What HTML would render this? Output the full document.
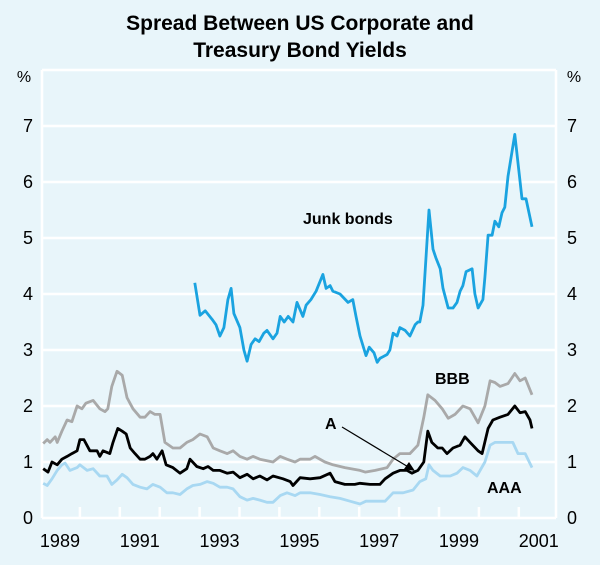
<!DOCTYPE html>
<html><head><meta charset="utf-8"><style>
body{margin:0;background:#e8f5fa;}
svg{display:block;font-family:"Liberation Sans",Arial,sans-serif;}
</style></head><body>
<svg id="chart" width="600" height="565" viewBox="0 0 600 565">
<rect x="0" y="0" width="600" height="565" fill="#e8f5fa"/>
<text x="300" y="30" text-anchor="middle" font-size="21" font-weight="bold">Spread Between US Corporate and</text>
<text x="300" y="57" text-anchor="middle" font-size="21" font-weight="bold">Treasury Bond Yields</text>
<g id="grid"></g>
<g id="axes"></g>
<g id="series"></g>
<text x="303" y="224" font-size="16" font-weight="bold">Junk bonds</text>
<text x="435" y="384" font-size="16" font-weight="bold">BBB</text>
<text x="325" y="429" font-size="16" font-weight="bold">A</text>
<text x="487" y="493" font-size="16" font-weight="bold">AAA</text>
<line x1="342" y1="427" x2="410" y2="468" stroke="#000" stroke-width="1.2"/>
<polygon points="415,471 404,469 409,462" fill="#000"/>
</svg>
<script>
const yTicks=[0,1,2,3,4,5,6,7];
const yearLabels=["1989","1991","1993","1995","1997","1999","2001"];
const yearLabelStarts=[1989,1991,1993,1995,1997,1999,2001];
const tickYears=[1990,1991,1992,1993,1994,1995,1996,1997,1998,1999,2000,2001];
const junkT=[1992.88,1993.01,1993.14,1993.31,1993.41,1993.51,1993.61,1993.71,1993.79,1993.86,1994.01,1994.11,1994.19,1994.29,1994.39,1994.49,1994.61,1994.69,1994.84,1994.94,1995.02,1995.12,1995.22,1995.34,1995.44,1995.59,1995.67,1995.79,1995.92,1996.09,1996.17,1996.27,1996.34,1996.52,1996.72,1996.84,1996.92,1997.02,1997.17,1997.25,1997.37,1997.45,1997.52,1997.7,1997.77,1997.85,1997.95,1998.02,1998.15,1998.27,1998.4,1998.47,1998.52,1998.6,1998.75,1998.85,1998.92,1999.03,1999.1,1999.23,1999.35,1999.45,1999.53,1999.6,1999.68,1999.83,1999.9,1999.98,2000.1,2000.15,2000.23,2000.33,2000.4,2000.5,2000.58,2000.65,2000.73,2000.9,2001.08,2001.18,2001.33];
const junkV=[4.2,3.62,3.7,3.55,3.45,3.25,3.4,3.9,4.1,3.65,3.4,3.0,2.8,3.1,3.2,3.15,3.3,3.35,3.2,3.3,3.6,3.5,3.6,3.5,3.85,3.6,3.8,3.9,4.05,4.35,4.1,4.15,4.05,4.0,3.85,3.9,3.6,3.25,2.9,3.05,2.95,2.78,2.85,2.92,3.0,3.3,3.25,3.4,3.35,3.25,3.45,3.5,3.5,3.8,5.5,4.8,4.65,4.45,4.1,3.75,3.75,3.85,4.05,4.15,4.4,4.45,4.0,3.75,3.9,4.3,5.05,5.05,5.3,5.2,5.45,5.55,6.1,6.85,5.7,5.7,5.2];
const bbbT=[1989.08,1989.18,1989.25,1989.38,1989.43,1989.55,1989.68,1989.8,1989.93,1990.05,1990.15,1990.33,1990.5,1990.63,1990.7,1990.8,1990.93,1991.06,1991.18,1991.33,1991.51,1991.63,1991.76,1991.88,1992.01,1992.13,1992.33,1992.51,1992.68,1992.83,1993.01,1993.19,1993.34,1993.51,1993.69,1993.84,1994.01,1994.19,1994.34,1994.51,1994.84,1995.02,1995.19,1995.39,1995.52,1995.77,1995.89,1996.14,1996.34,1996.64,1997.02,1997.15,1997.4,1997.7,1997.85,1998.02,1998.27,1998.47,1998.62,1998.72,1998.9,1999.08,1999.23,1999.4,1999.6,1999.78,1999.98,2000.15,2000.28,2000.4,2000.53,2000.73,2000.9,2001.03,2001.16,2001.33];
const bbbV=[1.33,1.4,1.35,1.45,1.35,1.55,1.75,1.72,2.0,1.95,2.05,2.1,1.95,1.9,1.95,2.35,2.62,2.55,2.15,1.95,1.8,1.8,1.9,1.85,1.85,1.35,1.25,1.25,1.35,1.4,1.5,1.45,1.25,1.2,1.15,1.2,1.1,1.05,1.1,1.05,1.0,1.1,1.05,1.0,1.05,1.05,1.1,1.0,0.95,0.9,0.85,0.82,0.85,0.9,1.05,1.15,1.15,1.3,1.8,2.2,2.1,1.95,1.78,1.85,2.0,1.95,1.7,2.0,2.45,2.42,2.35,2.4,2.58,2.45,2.5,2.2];
const aT=[1989.08,1989.2,1989.3,1989.43,1989.55,1989.68,1989.8,1989.93,1990.0,1990.1,1990.25,1990.43,1990.5,1990.58,1990.75,1990.83,1990.95,1991.06,1991.16,1991.26,1991.38,1991.51,1991.63,1991.76,1991.83,1991.93,1992.06,1992.16,1992.33,1992.51,1992.68,1992.76,1992.93,1993.09,1993.21,1993.34,1993.51,1993.69,1993.84,1994.01,1994.19,1994.34,1994.51,1994.69,1994.84,1995.09,1995.27,1995.34,1995.52,1995.77,1996.02,1996.27,1996.39,1996.64,1996.89,1997.02,1997.27,1997.52,1997.65,1997.85,1998.02,1998.2,1998.32,1998.47,1998.62,1998.72,1998.82,1998.97,1999.08,1999.2,1999.35,1999.53,1999.65,1999.78,1999.98,2000.08,2000.23,2000.35,2000.53,2000.73,2000.9,2001.03,2001.16,2001.28,2001.33];
const aV=[0.88,0.82,1.0,0.95,1.05,1.1,1.15,1.2,1.4,1.4,1.2,1.2,1.1,1.2,1.15,1.35,1.6,1.55,1.5,1.25,1.15,1.05,1.05,1.1,1.15,1.05,1.2,0.95,0.9,0.8,0.88,1.05,0.92,0.88,0.92,0.85,0.85,0.8,0.82,0.72,0.78,0.7,0.75,0.68,0.75,0.7,0.65,0.58,0.72,0.7,0.72,0.8,0.65,0.6,0.6,0.62,0.6,0.6,0.7,0.8,0.85,0.85,0.8,0.85,1.0,1.55,1.35,1.25,1.25,1.15,1.25,1.3,1.45,1.35,1.2,1.15,1.6,1.75,1.8,1.85,2.0,1.88,1.9,1.75,1.6];
const aaaT=[1989.08,1989.18,1989.3,1989.43,1989.55,1989.63,1989.75,1989.93,1990.0,1990.18,1990.33,1990.5,1990.68,1990.8,1990.93,1991.06,1991.18,1991.33,1991.51,1991.68,1991.83,1992.01,1992.18,1992.33,1992.51,1992.68,1992.83,1993.01,1993.19,1993.34,1993.51,1993.69,1993.84,1994.01,1994.19,1994.34,1994.51,1994.69,1994.84,1995.02,1995.19,1995.39,1995.52,1995.77,1996.02,1996.27,1996.52,1996.77,1997.02,1997.17,1997.4,1997.65,1997.85,1998.1,1998.35,1998.52,1998.67,1998.75,1998.85,1999.03,1999.28,1999.45,1999.6,1999.78,1999.95,2000.15,2000.28,2000.4,2000.65,2000.85,2000.98,2001.16,2001.33];
const aaaV=[0.62,0.58,0.7,0.85,0.95,0.98,0.85,0.9,0.95,0.85,0.88,0.75,0.75,0.6,0.68,0.78,0.72,0.6,0.55,0.52,0.6,0.55,0.45,0.45,0.42,0.52,0.58,0.6,0.65,0.62,0.55,0.55,0.52,0.38,0.32,0.35,0.32,0.28,0.28,0.4,0.45,0.4,0.45,0.45,0.42,0.38,0.35,0.3,0.25,0.3,0.3,0.3,0.45,0.45,0.5,0.65,0.7,0.95,0.85,0.75,0.75,0.8,0.9,0.85,0.75,1.0,1.3,1.35,1.35,1.35,1.15,1.15,0.9];

const NS="http://www.w3.org/2000/svg";
const X0=42,X1=556,Y0=518,Y8=70;
function xScale(t){return 40+(t-1989)*39.9;}
function yScale(v){return Y0-(v/8)*(Y0-Y8);}
function mk(tag,attrs,parent){const e=document.createElementNS(NS,tag);for(const k in attrs)e.setAttribute(k,attrs[k]);parent.appendChild(e);return e;}
const grid=document.getElementById('grid'),axes=document.getElementById('axes'),series=document.getElementById('series');

for(const v of [1,2,3,4,5,6,7,8]){
  const l=mk('line',{x1:X0,x2:X1,y1:yScale(v),y2:yScale(v),stroke:'#fff','stroke-width':2.5},grid);
  
  
}
for(const s of [X0,X1]){
  const l=mk('line',{x1:s,x2:s,y1:Y8,y2:Y0,stroke:'#fff','stroke-width':2.5},grid);
  
  
}
const base=mk('line',{x1:X0,x2:X1,y1:Y0,y2:Y0,stroke:'#fff','stroke-width':2.5},grid);


for(const y of tickYears){
  const l=mk('line',{x1:xScale(y),x2:xScale(y),y1:Y0,y2:Y0-11,stroke:'#fff','stroke-width':2.5},grid);
  
  
}
for(const v of yTicks){
  const a=mk('text',{x:28,y:yScale(v)+6,'text-anchor':'middle','font-size':18},axes);a.textContent=String(v);
  
  
  const b=mk('text',{x:572,y:yScale(v)+6,'text-anchor':'middle','font-size':18},axes);b.textContent=String(v);
  
  
}
const pl=mk('text',{x:24,y:82,'text-anchor':'middle','font-size':16},axes);pl.textContent='%';


const pr=mk('text',{x:574,y:82,'text-anchor':'middle','font-size':16},axes);pr.textContent='%';


yearLabels.forEach((lab,i)=>{
  const t=mk('text',{x:xScale(yearLabelStarts[i]+0.5),y:547,'text-anchor':'middle','font-size':18},axes);t.textContent=lab;
  
  
});
function line(T,V,color,name){
  const d=T.map((t,i)=>(i?'L':'M')+xScale(t).toFixed(1)+','+yScale(V[i]).toFixed(1)).join('');
  const p=mk('path',{d:d,fill:'none',stroke:color,'stroke-width':2.8,'stroke-linejoin':'round'},series);
  
  
}
line(aaaT,aaaV,'#a8d8f2','aaa-series');
line(bbbT,bbbV,'#a9a9a9','bbb-series');
line(aT,aV,'#000000','a-series');
line(junkT,junkV,'#1aa3e0','junk-bonds-series');
</script>
</body></html>
